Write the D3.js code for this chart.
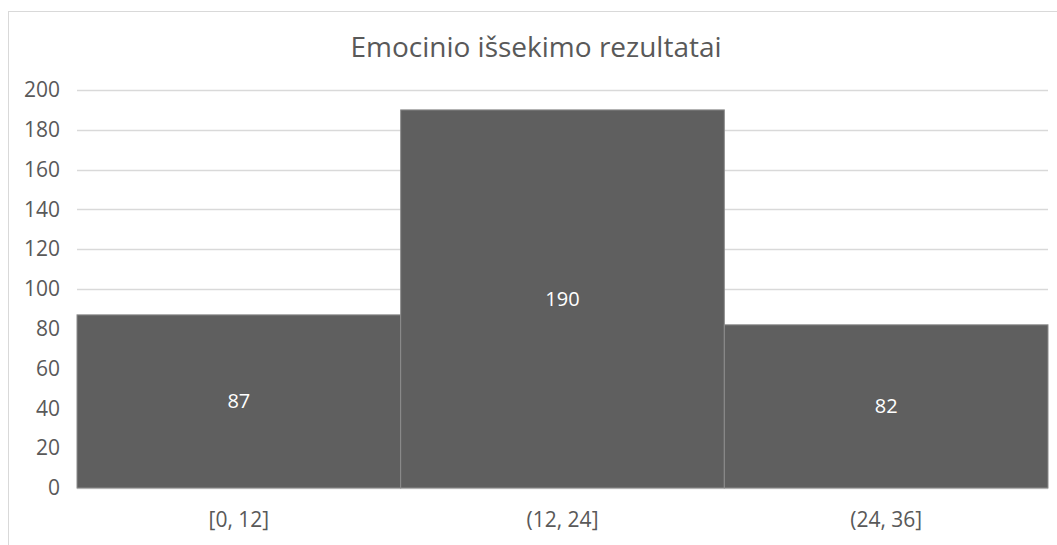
<!DOCTYPE html>
<html>
<head>
<meta charset="utf-8">
<script src="https://cdn.jsdelivr.net/npm/d3@7"></script>
<style>
  body { margin: 0; background: #fff; }
  text { font-family: "Open Sans", sans-serif; fill: #595959; }
</style>
</head>
<body>
<div id="chart-area"></div>
<script>
// histogram data
var categories = ["[0, 12]", "(12, 24]", "(24, 36]"];
var values = [87, 190, 82];
var yTicks = [0, 20, 40, 60, 80, 100, 120, 140, 160, 180, 200];
var title = "Emocinio išsekimo rezultatai";

var width = 1057, height = 545;
var margin = {left: 77, right: 9, top: 90, bottom: 57};

var svg = d3.select("#chart-area").append("svg")
    .attr("width", width)
    .attr("height", height);

// outer chart border (clipped on right and bottom like the picture)
svg.append("rect")
    .attr("x", 8.5)
    .attr("y", 11.5)
    .attr("width", width)
    .attr("height", height)
    .attr("fill", "none")
    .attr("stroke", "#d9d9d9");

var x = d3.scaleBand()
    .domain(categories)
    .range([margin.left, width - margin.right])
    .padding(0);

var y = d3.scaleLinear()
    .domain([0, 200])
    .range([height - margin.bottom, margin.top]);

// gridlines
svg.append("g")
    .selectAll("line")
    .data(yTicks)
    .enter()
    .append("line")
        .attr("x1", margin.left)
        .attr("x2", width - margin.right)
        .attr("y1", (d) => Math.round(y(d)) + 0.5)
        .attr("y2", (d) => Math.round(y(d)) + 0.5)
        .attr("stroke", "#d9d9d9")
        .attr("stroke-width", 1.5);

// y axis labels
var yAxis = d3.axisLeft(y).tickValues(yTicks).tickSize(0).tickPadding(0);
var gy = svg.append("g")
    .attr("transform", "translate(" + (margin.left - 17) + ",0)")
    .call(yAxis);
gy.select(".domain").remove();
gy.selectAll("text")
    .attr("font-size", 21)
    .attr("font-family", "Open Sans")
    .attr("fill", "#595959");

// bars
svg.selectAll("rect.bar")
    .data(values)
    .enter()
    .append("rect")
        .attr("class", "bar")
        .attr("x", (d, i) => x(categories[i]))
        .attr("y", (d) => y(d))
        .attr("width", x.bandwidth())
        .attr("height", (d) => y(0) - y(d))
        .attr("fill", "#5f5f5f")
        .attr("stroke", "#8c8c8c")
        .attr("stroke-width", 1);

// value labels
svg.selectAll("text.val")
    .data(values)
    .enter()
    .append("text")
        .attr("class", "val")
        .attr("x", (d, i) => x(categories[i]) + x.bandwidth() / 2)
        .attr("y", (d) => (y(d) + y(0)) / 2)
        .attr("dy", "0.35em")
        .attr("text-anchor", "middle")
        .attr("font-size", 20)
        .style("fill", "#ffffff")
        .text((d) => d);

// x axis labels
var xAxis = d3.axisBottom(x).tickSize(0).tickPadding(0);
var gx = svg.append("g")
    .attr("transform", "translate(0," + (y(0) + 24) + ")")
    .call(xAxis);
gx.select(".domain").remove();
gx.selectAll("text")
    .attr("font-size", 21)
    .attr("font-family", "Open Sans")
    .attr("fill", "#595959");

// title
svg.append("text")
    .attr("x", 536)
    .attr("y", 57)
    .attr("text-anchor", "middle")
    .attr("font-size", 28)
    .text(title);
</script>
</body>
</html>
